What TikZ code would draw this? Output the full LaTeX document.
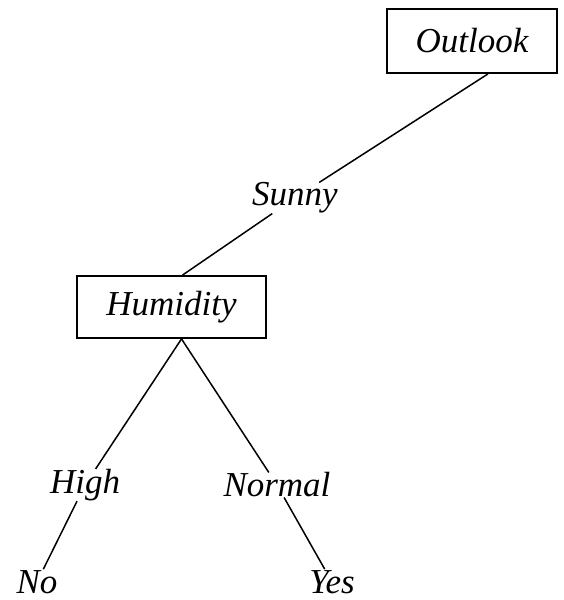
\documentclass[tikz,border=0pt]{standalone}
\usepackage{fontspec}
\setmainfont{Liberation Serif}
\begin{document}
\begin{tikzpicture}[x=1pt,y=-1pt,
  treefont/.style={font=\fontsize{35}{40}\selectfont\itshape},
  attrbox/.style={draw, line width=1.8pt, treefont, inner sep=0pt},
  branch/.style={treefont, inner sep=0pt},
  leaf/.style={treefont, inner sep=1pt},
  link/.style={line width=1.5pt}]
\useasboundingbox (0,0) rectangle (563,600);

% attribute tests
\node[attrbox, minimum width=170pt, minimum height=64pt] (outlook) at (472,41) {Outlook};
\node[attrbox, minimum width=189pt, minimum height=62pt] (humidity) at (171.5,307) {Humidity};

% branch values
\node[branch] (sunny) at (295,198) {Sunny};
\node[branch] (high) at (85,485) {High};
\node[branch] (normal) at (277,485) {Normal};

% leaves
\node[leaf] (no) at (37,582) {No};
\node[leaf] (yes) at (332,582) {Yes};

% connectors
\draw[link] ([xshift=16pt]outlook.south) -- (sunny);
\draw[link] (sunny) -- ([xshift=11pt]humidity.north);
\draw[link] ([xshift=10pt]humidity.south) -- (high);
\draw[link] ([xshift=10pt]humidity.south) -- (normal);
\draw[link] (high) -- (no);
\draw[link] (normal) -- (yes);
\end{tikzpicture}
\end{document}
